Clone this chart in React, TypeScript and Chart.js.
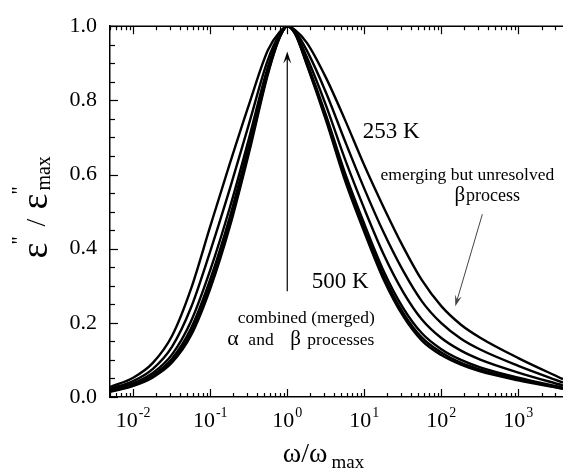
import React, { useEffect, useRef } from "react";
import { Chart, registerables } from "chart.js";

Chart.register(...registerables);

// ---------- data ----------
const freq = [0.005, 0.01, 0.018, 0.032, 0.056, 0.1, 0.18, 0.32, 0.56, 0.8, 1, 1.26, 1.8, 3.2, 5.6, 10, 18, 32, 56, 100, 180, 320, 1000, 3800];

const curve253K = [0.027, 0.052, 0.092, 0.165, 0.29, 0.46, 0.63, 0.79, 0.935, 0.985, 1, 0.99, 0.955, 0.86, 0.748, 0.625, 0.51, 0.405, 0.315, 0.245, 0.195, 0.16, 0.105, 0.048];
const curveT2 = [0.022, 0.043, 0.076, 0.136, 0.24, 0.393, 0.562, 0.738, 0.909, 0.979, 1, 0.987, 0.934, 0.82, 0.691, 0.562, 0.442, 0.34, 0.258, 0.199, 0.157, 0.128, 0.084, 0.039];
const curveT3 = [0.018, 0.037, 0.065, 0.115, 0.203, 0.342, 0.511, 0.699, 0.89, 0.975, 1, 0.984, 0.916, 0.785, 0.642, 0.508, 0.383, 0.283, 0.209, 0.159, 0.125, 0.101, 0.066, 0.031];
const curveT4 = [0.016, 0.033, 0.059, 0.104, 0.184, 0.317, 0.486, 0.68, 0.88, 0.972, 1, 0.981, 0.902, 0.759, 0.605, 0.467, 0.338, 0.24, 0.172, 0.129, 0.1, 0.08, 0.052, 0.025];
const curveT5 = [0.015, 0.031, 0.055, 0.097, 0.173, 0.302, 0.47, 0.668, 0.874, 0.971, 1, 0.981, 0.898, 0.751, 0.593, 0.454, 0.325, 0.227, 0.16, 0.12, 0.092, 0.074, 0.048, 0.023];
const curve500K = [0.014, 0.03, 0.053, 0.093, 0.165, 0.292, 0.46, 0.66, 0.87, 0.97, 1, 0.98, 0.895, 0.745, 0.585, 0.445, 0.315, 0.218, 0.152, 0.113, 0.087, 0.069, 0.045, 0.022];

const curves = [curve253K, curveT2, curveT3, curveT4, curveT5, curve500K];

const xMin = 0.005;
const xMax = 3800;
const xMajorExponents = [-2, -1, 0, 1, 2, 3];
const yTickStep = 0.2;
const yMinorStep = 0.05;

const FONT = '"Liberation Serif", "Times New Roman", serif';

function drawArrow(ctx: CanvasRenderingContext2D, x1: number, y1: number, x2: number, y2: number, color: string, lw: number, headLen: number, headW: number) {
  ctx.save();
  ctx.strokeStyle = color;
  ctx.fillStyle = color;
  ctx.lineWidth = lw;
  const a = Math.atan2(y2 - y1, x2 - x1);
  const c = Math.cos(a), s = Math.sin(a);
  ctx.beginPath();
  ctx.moveTo(x1, y1);
  ctx.lineTo(x2 - c * headLen * 0.5, y2 - s * headLen * 0.5);
  ctx.stroke();
  ctx.beginPath();
  ctx.moveTo(x2, y2);
  ctx.lineTo(x2 - headLen * c + headW * s, y2 - headLen * s - headW * c);
  ctx.lineTo(x2 - headLen * 0.6 * c, y2 - headLen * 0.6 * s);
  ctx.lineTo(x2 - headLen * c - headW * s, y2 - headLen * s + headW * c);
  ctx.closePath();
  ctx.fill();
  ctx.restore();
}

const decorPlugin = {
  id: "decor",
  afterDraw(chart: any) {
    const ctx: CanvasRenderingContext2D = chart.ctx;
    const xs = chart.scales.x;
    const ys = chart.scales.y;
    const area = chart.chartArea;
    const px = (v: number) => xs.getPixelForValue(v);
    const py = (v: number) => ys.getPixelForValue(v);

    ctx.save();
    ctx.strokeStyle = "#000";
    ctx.fillStyle = "#000";

    // top frame line
    ctx.lineWidth = 1.5;
    ctx.beginPath();
    ctx.moveTo(area.left, area.top);
    ctx.lineTo(area.right, area.top);
    ctx.stroke();

    // x ticks (bottom pointing up, top pointing down)
    ctx.lineWidth = 1.2;
    for (let e = -3; e <= 4; e++) {
      for (let k = 1; k <= 9; k++) {
        const v = k * Math.pow(10, e);
        if (v < xMin || v > xMax) continue;
        const x = Math.round(px(v)) + 0.5;
        const len = k === 1 ? 8 : 4;
        ctx.beginPath();
        ctx.moveTo(x, area.bottom);
        ctx.lineTo(x, area.bottom - len);
        ctx.moveTo(x, area.top);
        ctx.lineTo(x, area.top + len);
        ctx.stroke();
      }
    }
    // y ticks (left axis pointing right)
    for (let i = 0; i <= Math.round(1 / yMinorStep); i++) {
      const v = i * yMinorStep;
      const y = Math.round(py(v)) + 0.5;
      const major = i % Math.round(yTickStep / yMinorStep) === 0;
      const len = major ? 8 : 5;
      ctx.beginPath();
      ctx.moveTo(area.left, y);
      ctx.lineTo(area.left + len, y);
      ctx.stroke();
    }

    // x tick labels 10^n
    ctx.textBaseline = "alphabetic";
    ctx.textAlign = "left";
    for (const e of xMajorExponents) {
      const x = px(Math.pow(10, e));
      ctx.font = `22px ${FONT}`;
      const wb = ctx.measureText("10").width;
      ctx.font = `14px ${FONT}`;
      const et = String(e);
      const we = ctx.measureText(et).width;
      const x0 = x - (wb + we + 1) / 2;
      ctx.font = `22px ${FONT}`;
      ctx.fillText("10", x0, area.bottom + 30);
      ctx.font = `14px ${FONT}`;
      ctx.fillText(et, x0 + wb + 1, area.bottom + 20);
    }

    // x title  ω/ω max
    {
      ctx.font = `28px ${FONT}`;
      const w1 = ctx.measureText("ω/ω").width;
      ctx.font = `19px ${FONT}`;
      const w2 = ctx.measureText("max").width;
      const cx = (area.left + area.right) / 2 - 13;
      const x0 = cx - (w1 + w2 + 4) / 2;
      ctx.font = `28px ${FONT}`;
      ctx.fillText("ω/ω", x0, area.bottom + 65);
      ctx.font = `19px ${FONT}`;
      ctx.fillText("max", x0 + w1 + 4, area.bottom + 71);
    }

    // y title  ε''/ε''max (rotated)
    {
      ctx.save();
      const cy = (area.top + area.bottom) / 2;
      ctx.translate(47, cy + 47);
      ctx.rotate(-Math.PI / 2);
      ctx.textAlign = "left";
      ctx.font = `38px ${FONT}`;
      ctx.fillText("ε", 0, 0);
      ctx.font = `20px ${FONT}`;
      ctx.fillText('"', 14, -21);
      ctx.font = `28px ${FONT}`;
      ctx.fillText("/", 32, -2);
      ctx.font = `38px ${FONT}`;
      ctx.fillText("ε", 49, 0);
      ctx.font = `20px ${FONT}`;
      ctx.fillText('"', 64, -21);
      ctx.font = `20px ${FONT}`;
      ctx.fillText("max", 68, 3);
      ctx.restore();
    }

    // annotations
    ctx.textAlign = "center";
    ctx.font = `23px ${FONT}`;
    ctx.fillText("253 K", px(22.4), py(0.699));
    ctx.fillText("500 K", px(4.88), py(0.293));

    ctx.font = `17.5px ${FONT}`;
    ctx.fillText("emerging but unresolved", px(218), py(0.584));
    {
      ctx.textAlign = "left";
      ctx.font = `21px ${FONT}`;
      const wb = ctx.measureText("β").width;
      ctx.font = `18px ${FONT}`;
      const wp = ctx.measureText("process").width;
      const x0 = px(395) - (wb + wp + 1) / 2;
      const yb = py(0.528);
      ctx.font = `21px ${FONT}`;
      ctx.fillText("β", x0, yb);
      ctx.font = `18px ${FONT}`;
      ctx.fillText("process", x0 + wb + 1, yb);
    }

    ctx.textAlign = "center";
    ctx.font = `17.5px ${FONT}`;
    ctx.fillText("combined (merged)", px(1.77), py(0.2));
    {
      ctx.textAlign = "left";
      const ax = px(1.48);
      const yb = py(0.139);
      ctx.font = `22px ${FONT}`;
      ctx.fillText("α", ax - 73, yb);
      ctx.font = `17.5px ${FONT}`;
      ctx.fillText("and", ax - 52, yb);
      ctx.font = `21px ${FONT}`;
      ctx.fillText("β", ax - 10, yb);
      ctx.font = `17.5px ${FONT}`;
      ctx.fillText("processes", ax + 7, yb);
    }

    // arrows
    drawArrow(ctx, px(1), py(0.285), px(1), py(0.932), "#000", 1.2, 12, 4);
    drawArrow(ctx, px(341), py(0.493), px(152), py(0.245), "#444", 1, 11, 3.5);

    ctx.restore();
  },
};

export default function App() {
  const ref = useRef<HTMLCanvasElement | null>(null);

  useEffect(() => {
    if (!ref.current) return;
    const datasets = curves.map((c) => ({
      data: freq.map((f, i) => ({ x: f, y: c[i] })),
      borderColor: "#000",
      borderWidth: 2.4,
      pointRadius: 0,
      fill: false,
      cubicInterpolationMode: "monotone" as const,
    }));
    const chart = new Chart(ref.current, {
      type: "line",
      data: { datasets },
      options: {
        animation: false,
        responsive: true,
        maintainAspectRatio: false,
        layout: { padding: { top: 22, right: 0, left: 0, bottom: 0 } },
        plugins: { legend: { display: false }, tooltip: { enabled: false } },
        scales: {
          x: {
            type: "logarithmic",
            min: xMin,
            max: xMax,
            grid: { display: false, drawTicks: false },
            border: { display: true, color: "#000", width: 1.5 },
            ticks: { display: false },
            afterFit: (s: any) => {
              s.height = 73;
            },
          },
          y: {
            min: 0,
            max: 1,
            grid: { display: false, drawTicks: false },
            border: { display: true, color: "#000", width: 1.5 },
            ticks: {
              stepSize: yTickStep,
              padding: 13,
              color: "#000",
              font: { family: FONT, size: 22 },
              callback: (v: any) => Number(v).toFixed(1),
            },
            afterFit: (s: any) => {
              s.width = 110;
            },
          },
        },
      },
      plugins: [decorPlugin],
    });
    return () => chart.destroy();
  }, []);

  return (
    <div style={{ position: "fixed", left: 0, top: 0, width: 563, height: 470, background: "#fff" }}>
      <canvas ref={ref} />
    </div>
  );
}
